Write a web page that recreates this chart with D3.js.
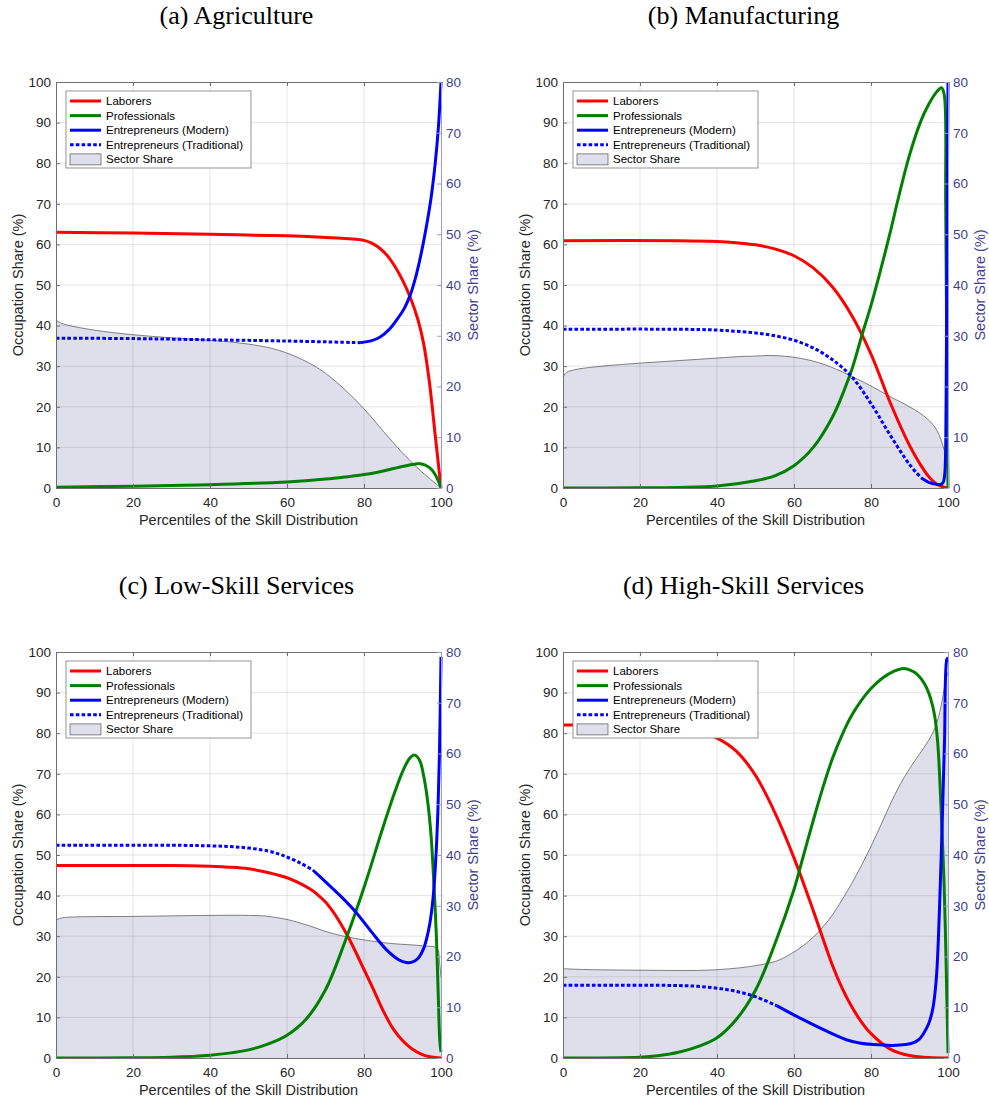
<!DOCTYPE html>
<html>
<head>
<meta charset="utf-8">
<script src="https://cdn.jsdelivr.net/npm/d3@7"></script>
<style>
  html, body { margin: 0; padding: 0; background: #fff; }
  svg { display: block; }
</style>
</head>
<body>
<svg id="chart" width="989" height="1100"></svg>
<script>
// ---- Data: [percentile, share] pairs; occupation shares on the left axis (%),
// ---- sector share on the right axis (%).

// (a) Agriculture
const agLaborers = [[0,63],[20,62.8],[40,62.5],[60,62.1],[70,61.7],[76,61.4],[80,61],[82,60.3],[84,59.1],[86,57.3],[88,54.6],[90,51.2],[92,47],[94,41.5],[95.5,35.5],[97,26],[98.5,13],[100,0]];
const agProfessionals = [[0,0.2],[20,0.45],[40,0.8],[60,1.5],[70,2.2],[75,2.7],[80,3.3],[85,4.2],[90,5.3],[93,5.85],[94.5,6],[96,5.6],[97.5,4.6],[99,2.4],[100,0]];
const agEntModern = [[79,35.8],[82,36.3],[84.2,37.2],[86.5,39],[88.5,41.4],[90.5,44.3],[92,47.5],[93.3,51.5],[94.5,56.2],[95.5,60.8],[96.5,66],[97.5,72],[98.5,80],[99.3,88.5],[100,100]];
const agEntTraditional = [[0,36.9],[20,36.8],[40,36.5],[60,36.2],[79,35.8]];
const agSector = [[0,33.1],[1,32.6],[3,32.1],[10,31.1],[20,30.2],[30,29.6],[40,29.1],[45,28.8],[50,28.35],[55,27.7],[58,27.1],[61,26.3],[64,25.3],[67,24.1],[70,22.6],[75,19.4],[80,15.6],[85,11.2],[90,6.9],[95,3.2],[100,0]];

// (b) Manufacturing
const mfLaborers = [[0,60.9],[30,60.9],[40,60.7],[45,60.4],[50,59.9],[55,58.9],[60,57.2],[65,54.2],[70,49.5],[75,42.5],[80,33],[85,21],[90,10.5],[93,5.5],[95,2.8],[97,1],[99,0.2],[100,0]];
const mfProfessionals = [[0,0],[20,0.05],[30,0.15],[40,0.5],[50,1.8],[55,3],[60,5.5],[65,10],[70,17.5],[73,24],[75.3,30],[77.6,37.5],[80,45],[82.3,53],[85,63],[87,71],[90,82],[93,90.5],[95,94.5],[97,97.5],[98.3,98.6],[99,97],[99.4,70],[99.7,30],[100,0]];
const mfEntModern = [[93,2.5],[95,1.4],[97,0.9],[98.2,0.9],[98.8,1.5],[99.2,4],[99.5,20],[99.75,60],[100,100]];
const mfEntTraditional = [[0,39.1],[30,39.1],[40,38.9],[45,38.6],[50,38.2],[55,37.5],[60,36.4],[65,34.5],[70,31.6],[75,27.4],[80,20.8],[85,13],[90,5.8],[93,2.5]];
const mfSector = [[0,21.9],[1,22.8],[3,23.3],[10,24],[20,24.6],[30,25.1],[40,25.6],[46,25.9],[50,26],[53,26.1],[56,26.05],[59,25.85],[62,25.5],[65,25],[68,24.3],[71,23.4],[75,22],[80,20.1],[85,18],[90,16],[93,14.6],[95.5,13],[97,11.5],[98.2,9.5],[99,7.5],[100,5.5]];

// (c) Low-Skill Services
const lsLaborers = [[0,47.4],[30,47.4],[40,47.2],[45,47],[50,46.6],[55,45.7],[60,44.4],[63,43.2],[66,41.6],[68,40.2],[70,38.4],[72,36],[74,33],[76,29.6],[78,25.8],[80,21.8],[82.5,16.8],[85,11.6],[87.5,7.3],[90,4.3],[92.5,2.2],[95,0.9],[97.5,0.25],[100,0]];
const lsProfessionals = [[0,0],[20,0.05],[30,0.2],[40,0.7],[45,1.2],[50,2],[55,3.4],[60,5.6],[65,9.6],[70,16.8],[75,28.5],[80,42],[85,57],[88,65.5],[90,70.5],[92,74],[93.2,74.6],[94.5,73.2],[95.5,69.5],[96.5,63.5],[97.4,55],[98.2,42],[98.8,30],[99.3,15],[99.7,4],[100,1.5]];
const lsEntModern = [[66.7,46.3],[70,43.4],[74,39.8],[78,35.8],[82,31],[86,26.5],[89,24.2],[91,23.5],[92.5,23.6],[94,24.5],[95.5,27],[97,32.6],[98,40],[98.7,50],[99.2,61],[99.6,75],[100,98.8]];
const lsEntTraditional = [[0,52.4],[30,52.4],[40,52.25],[48,51.9],[55,51],[58,50.2],[60,49.5],[63.5,48],[66.7,46.3]];
const lsSector = [[0,27.2],[1.5,27.6],[5,27.8],[20,27.9],[40,28.1],[50,28.1],[54,28],[57,27.7],[60,27.3],[63,26.7],[66,26],[69,25.2],[72,24.5],[76,23.8],[80.6,23.2],[86.6,22.6],[95.2,22.1],[99,21.6],[99.6,19],[100,15.9]];

// (d) High-Skill Services
const hsLaborers = [[0,82],[20,82],[25,81.8],[30,81.3],[35,80.4],[40,78.8],[45,75.6],[50,69.6],[55,60.5],[60,49.3],[65,36.3],[70,22.8],[72.5,17.2],[75,12.6],[77.5,8.9],[80,6],[85,2.2],[90,0.6],[95,0.1],[100,0]];
const hsProfessionals = [[0,0],[20,0.2],[25,0.6],[30,1.4],[35,2.8],[40,5],[45,9.5],[50,16.7],[55,28],[60,41.5],[62.5,50],[65,58.5],[67.5,66.6],[70,73.8],[72.5,79.6],[75,84.4],[77.5,88.1],[80,91],[83,93.6],[86,95.3],[88,95.9],[90,95.6],[92,94.5],[94,92],[95.5,88.5],[96.5,84.5],[97.3,78],[97.8,70],[98.4,57],[98.9,45],[99.3,32],[99.7,15],[100,1.2]];
const hsEntModern = [[55.5,12.9],[59.8,10.7],[63.3,9],[68.5,6.6],[73.6,4.5],[77,3.7],[80.6,3.3],[85.7,3.1],[89,3.3],[90.9,3.7],[92.5,4.6],[93.5,5.8],[95,8.5],[96.1,12.4],[97,20],[97.8,37.1],[98.5,58],[99.1,78.3],[99.7,98.2],[100,98.6]];
const hsEntTraditional = [[0,17.9],[30,17.85],[35,17.65],[40,17.2],[45,16.4],[50,15.1],[55.5,12.9]];
const hsSector = [[0,17.6],[5,17.45],[20,17.3],[37,17.3],[45,17.7],[50,18.2],[55,19],[57.5,19.8],[60,20.9],[62.5,22.2],[65,23.8],[67.5,25.8],[70,28.2],[72.5,31.2],[75,34.4],[77.5,37.9],[80,41.7],[82.5,45.8],[85,50],[87.5,53.8],[90,57],[92.5,59.8],[95,62.6],[97,65.8],[98.5,70.5],[99.4,74.5],[100,76]];

// Axis ticks and labels
const xTicks = [0, 20, 40, 60, 80, 100];
const leftTicks = [0, 10, 20, 30, 40, 50, 60, 70, 80, 90, 100];
const rightTicks = [0, 10, 20, 30, 40, 50, 60, 70, 80];
const legendLabels = ["Laborers", "Professionals", "Entrepreneurs (Modern)", "Entrepreneurs (Traditional)", "Sector Share"];
const xLabel = "Percentiles of the Skill Distribution";
const leftLabel = "Occupation Share (%)";
const rightLabel = "Sector Share (%)";

const panels = [
  { title: "(a) Agriculture", laborers: agLaborers, professionals: agProfessionals, modern: agEntModern, traditional: agEntTraditional, sector: agSector },
  { title: "(b) Manufacturing", laborers: mfLaborers, professionals: mfProfessionals, modern: mfEntModern, traditional: mfEntTraditional, sector: mfSector },
  { title: "(c) Low-Skill Services", laborers: lsLaborers, professionals: lsProfessionals, modern: lsEntModern, traditional: lsEntTraditional, sector: lsSector },
  { title: "(d) High-Skill Services", laborers: hsLaborers, professionals: hsProfessionals, modern: hsEntModern, traditional: hsEntTraditional, sector: hsSector }
];

// ---- Layout and style
const plotLefts = [56, 563];
const plotTops = [82, 652];
const plotW = 385, plotH = 406;
const SANS = "'Liberation Sans', Arial, Helvetica, sans-serif";
const SERIF = "'Liberation Serif', 'Times New Roman', serif";
const C = {
  red: "#ff0000", green: "#008000", blue: "#0000ff",
  fill: "#dfdfec", edge: "#4d4d4d",
  axis: "#262626", axisLine: "#6f6f6f", grid: "#262626",
  right: "#3f3f8f", rightLine: "#9a9ad2"
};
// Centripetal Catmull-Rom keeps the curves smooth and passing through every point
const smooth = d3.curveCatmullRom.alpha(0.5);

const svg = d3.select("#chart");

panels.forEach((p, i) => {
  const x0 = plotLefts[i % 2], y0 = plotTops[Math.floor(i / 2)];
  const g = svg.append("g").attr("transform", `translate(${x0},${y0})`);

  const x = d3.scaleLinear().domain([0, 100]).range([0, plotW]);
  const yL = d3.scaleLinear().domain([0, 100]).range([plotH, 0]);
  const yR = d3.scaleLinear().domain([0, 80]).range([plotH, 0]);

  const clipId = "clip" + i;
  g.append("clipPath").attr("id", clipId).append("rect")
    .attr("x", -2).attr("y", -2).attr("width", plotW + 4).attr("height", plotH + 2);

  // Title
  svg.append("text")
    .attr("x", x0 + plotW / 2 - 12).attr("y", y0 - 58)
    .attr("text-anchor", "middle")
    .style("font-family", SERIF).style("font-size", "26px").attr("fill", "#000")
    .text(p.title);

  // Sector share area (right axis)
  const area = d3.area().x(d => x(d[0])).y0(yR(0)).y1(d => yR(d[1])).curve(smooth);
  const sectorLine = d3.line().x(d => x(d[0])).y(d => yR(d[1])).curve(smooth);
  g.append("path").datum(p.sector).attr("d", area).attr("fill", C.fill).attr("stroke", "none");
  g.append("path").datum(p.sector).attr("d", sectorLine)
    .attr("fill", "none").attr("stroke", C.edge).attr("stroke-width", 0.7);

  // Grid
  const grid = g.append("g").attr("stroke", C.grid).attr("stroke-opacity", 0.12).attr("stroke-width", 1);
  xTicks.slice(1, -1).forEach(t => grid.append("line")
    .attr("x1", x(t)).attr("x2", x(t)).attr("y1", 0).attr("y2", plotH));
  leftTicks.slice(1, -1).forEach(t => grid.append("line")
    .attr("x1", 0).attr("x2", plotW).attr("y1", yL(t)).attr("y2", yL(t)));

  // Occupation share lines (left axis)
  const line = d3.line().x(d => x(d[0])).y(d => yL(d[1])).curve(smooth);
  const lines = g.append("g").attr("clip-path", `url(#${clipId})`).attr("fill", "none").attr("stroke-width", 3);
  lines.append("path").datum(p.laborers).attr("d", line).attr("stroke", C.red);
  lines.append("path").datum(p.professionals).attr("d", line).attr("stroke", C.green);
  lines.append("path").datum(p.modern).attr("d", line).attr("stroke", C.blue);
  lines.append("path").datum(p.traditional).attr("d", line).attr("stroke", C.blue)
    .attr("stroke-dasharray", "3.6,2.2");

  // Axes (ticks point inward)
  const styleAxis = (sel, color, lineColor) => {
    sel.selectAll("text").style("font-family", SANS).style("font-size", "13.5px").attr("fill", color);
    sel.selectAll(".tick line").attr("stroke", lineColor);
    sel.select(".domain").attr("stroke", lineColor);
  };
  const bottom = g.append("g").attr("transform", `translate(0,${plotH})`)
    .call(d3.axisBottom(x).tickValues(xTicks).tickSizeInner(-4).tickSizeOuter(0).tickPadding(9));
  styleAxis(bottom, C.axis, C.axisLine);
  const top = g.append("g")
    .call(d3.axisTop(x).tickValues(xTicks).tickSizeInner(-4).tickSizeOuter(0).tickFormat(""));
  styleAxis(top, C.axis, C.axisLine);
  const left = g.append("g")
    .call(d3.axisLeft(yL).tickValues(leftTicks).tickSizeInner(-4).tickSizeOuter(0).tickPadding(5));
  styleAxis(left, C.axis, C.axisLine);
  const right = g.append("g").attr("transform", `translate(${plotW},0)`)
    .call(d3.axisRight(yR).tickValues(rightTicks).tickSizeInner(-4).tickSizeOuter(0).tickPadding(5));
  styleAxis(right, C.right, C.rightLine);

  // Axis titles
  g.append("text").attr("x", plotW / 2).attr("y", plotH + 37)
    .attr("text-anchor", "middle").style("font-family", SANS).style("font-size", "14.5px").attr("fill", C.axis)
    .text(xLabel);
  g.append("text").attr("transform", `translate(-33,${plotH / 2}) rotate(-90)`)
    .attr("text-anchor", "middle").style("font-family", SANS).style("font-size", "14.5px").attr("fill", C.axis)
    .text(leftLabel);
  g.append("text").attr("transform", `translate(${plotW + 37},${plotH / 2}) rotate(-90)`)
    .attr("text-anchor", "middle").style("font-family", SANS).style("font-size", "14.5px").attr("fill", C.right)
    .text(rightLabel);

  // Legend
  const lg = g.append("g").attr("transform", "translate(10,9)");
  lg.append("rect").attr("x", 0).attr("y", 0).attr("width", 185).attr("height", 77)
    .attr("fill", "#fff").attr("stroke", "#7a7a7a").attr("stroke-width", 0.8);
  const legendStyles = [
    { stroke: C.red }, { stroke: C.green }, { stroke: C.blue },
    { stroke: C.blue, dash: "3.6,2.2" }, { box: true }
  ];
  legendLabels.forEach((lab, k) => {
    const yy = 10 + k * 14.6;
    const st = legendStyles[k];
    if (st.box) {
      lg.append("rect").attr("x", 4).attr("y", yy - 5.5).attr("width", 31).attr("height", 11)
        .attr("fill", C.fill).attr("stroke", "#555").attr("stroke-width", 0.7);
    } else {
      lg.append("line").attr("x1", 4).attr("x2", 35).attr("y1", yy).attr("y2", yy)
        .attr("stroke", st.stroke).attr("stroke-width", 3)
        .attr("stroke-dasharray", st.dash || null);
    }
    lg.append("text").attr("x", 40).attr("y", yy + 4)
      .style("font-family", SANS).style("font-size", "11.5px").attr("fill", "#000")
      .text(lab);
  });
});
</script>
</body>
</html>
